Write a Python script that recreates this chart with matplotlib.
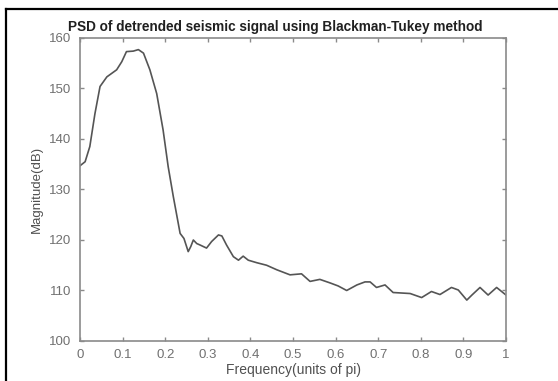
import matplotlib
matplotlib.use("Agg")
import matplotlib.pyplot as plt
from matplotlib.lines import Line2D

plt.rcParams['font.family'] = ['Liberation Sans', 'DejaVu Sans']

# PSD estimate, frequency in units of pi, magnitude in dB
freq = [0.0, 0.012, 0.023, 0.035, 0.047, 0.063, 0.086, 0.098, 0.109, 0.125,
        0.137, 0.149, 0.164, 0.18, 0.195, 0.207, 0.219, 0.235, 0.244, 0.254,
        0.26, 0.266, 0.274, 0.282, 0.297, 0.309, 0.325, 0.333, 0.344, 0.36,
        0.372, 0.383, 0.395, 0.415, 0.438, 0.462, 0.493, 0.52, 0.54, 0.563,
        0.587, 0.606, 0.626, 0.65, 0.669, 0.681, 0.696, 0.716, 0.735, 0.775,
        0.802, 0.825, 0.845, 0.872, 0.888, 0.908, 0.92, 0.939, 0.958, 0.978,
        1.0]
mag = [134.7, 135.5, 138.5, 145.0, 150.4, 152.3, 153.7, 155.3, 157.3, 157.4,
       157.7, 157.0, 153.7, 149.0, 141.8, 134.5, 128.6, 121.3, 120.3, 117.7,
       118.7, 120.0, 119.3, 119.0, 118.4, 119.7, 121.0, 120.8, 119.0, 116.7,
       116.0, 116.8, 116.0, 115.5, 115.0, 114.1, 113.1, 113.3, 111.8, 112.2,
       111.5, 110.9, 110.0, 111.1, 111.7, 111.7, 110.6, 111.1, 109.6, 109.4,
       108.6, 109.8, 109.2, 110.6, 110.1, 108.1, 109.1, 110.6, 109.1, 110.6,
       109.1]

xticks = [0, 0.1, 0.2, 0.3, 0.4, 0.5, 0.6, 0.7, 0.8, 0.9, 1]
xtick_labels = ['0', '0.1', '0.2', '0.3', '0.4', '0.5', '0.6', '0.7', '0.8', '0.9', '1']
yticks = [100, 110, 120, 130, 140, 150, 160]

fig = plt.figure(figsize=(5.58, 3.81), dpi=100)
ax = fig.add_axes([0.1434, 0.105, 0.7634, 0.7953])

ax.plot(freq, mag, color='#555555', linewidth=1.2)
ax.set_xlim(0, 1)
ax.set_ylim(100, 160)
ax.set_xticks(xticks)
ax.set_xticklabels(xtick_labels)
ax.set_yticks(yticks)

grey = '#8a8a8a'
for s in ax.spines.values():
    s.set_color(grey)
    s.set_linewidth(1.2)
ax.tick_params(direction='in', length=3, width=1, colors=grey,
               labelcolor='#707070', labelsize=9.5, top=True, right=True)
ax.tick_params(axis='y', pad=6)
ax.tick_params(axis='x', pad=6)

ax.set_xlabel('Frequency(units of pi)', fontsize=10, color='#505050', labelpad=1)
ax.set_ylabel('Magnitude(dB)', fontsize=9.5, color='#505050', labelpad=5)
fig.text(275 / 558, 1 - 27 / 381, 'PSD of detrended seismic signal using Blackman-Tukey method',
         ha='center', va='center', fontsize=9.8, fontweight='bold', color='#202020')

# frame lines around the figure
fig.add_artist(Line2D([6 / 558, 6 / 558], [0, 1 - 9 / 381], color='black', linewidth=1.6))
fig.add_artist(Line2D([6 / 558, 1], [1 - 9 / 381, 1 - 9 / 381], color='black', linewidth=1.6))

fig.savefig('out.png', dpi=100)
